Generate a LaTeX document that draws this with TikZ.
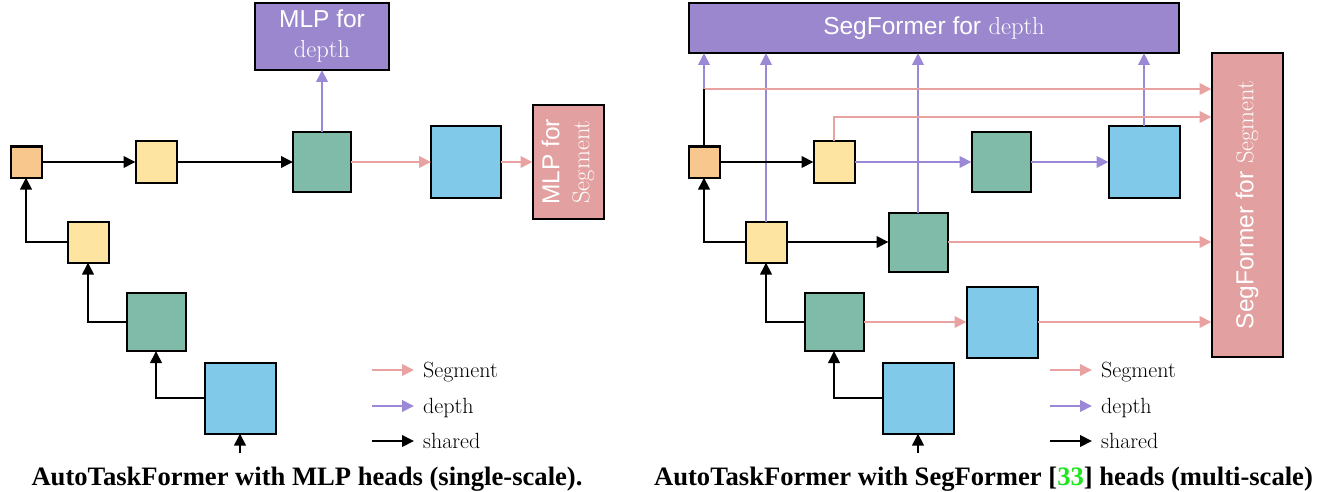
\documentclass[tikz,border=0pt]{standalone}
\usepackage{fontspec}
\newfontfamily\hv{Liberation Sans}
\newfontfamily\tms{Liberation Serif}
\usetikzlibrary{arrows.meta}
\definecolor{orangec}{RGB}{247,199,141}
\definecolor{yellowc}{RGB}{253,228,160}
\definecolor{tealc}{RGB}{127,187,168}
\definecolor{bluec}{RGB}{128,201,232}
\definecolor{purpbox}{RGB}{155,135,205}
\definecolor{pinkbox}{RGB}{226,160,160}
\definecolor{segc}{RGB}{232,162,162}
\definecolor{depc}{RGB}{155,136,214}
\definecolor{citegreen}{RGB}{30,230,30}
\tikzset{
  blk/.style={draw=black, line width=2pt, inner sep=0pt, outer sep=0pt},
  headtxt/.style={text=white, font=\fontsize{24.5}{30}\selectfont, align=center},
  tip/.style={-{Triangle[length=12pt,width=11.5pt]}},
  sh/.style={draw=black, line width=2pt, tip},
  shline/.style={draw=black, line width=2pt},
  seg/.style={draw=segc, line width=2pt, -{Triangle[length=12pt,width=11.5pt,fill=segc]}},
  dep/.style={draw=depc, line width=2pt, -{Triangle[length=12pt,width=11.5pt,fill=depc]}},
  legtxt/.style={font=\fontsize{22}{26}\selectfont, anchor=base west, inner sep=0pt},
  captxt/.style={font=\tms\bfseries\fontsize{26.6}{30}\selectfont, anchor=base, inner sep=0pt}
}
\begin{document}
\begin{tikzpicture}[x=1pt,y=-1pt]
\useasboundingbox (0,0) rectangle (1322,492);

% ---------------- Left panel ----------------
\node[blk, fill=orangec, minimum width=31pt, minimum height=31pt] (lo) at (26,162) {};
\node[blk, fill=yellowc, minimum width=41pt, minimum height=41pt] (ly1) at (156,162) {};
\node[blk, fill=tealc, minimum width=58pt, minimum height=59pt] (lt1) at (322,162) {};
\node[blk, fill=bluec, minimum width=70pt, minimum height=71pt] (lb1) at (466,162) {};
\node[blk, fill=pinkbox, minimum width=71pt, minimum height=113pt] (lseg) at (568,162) {};
\node[headtxt, rotate=90] (lsegT) at (lseg.center) {{\hv MLP for}\\Segment};
\node[blk, fill=purpbox, minimum width=134pt, minimum height=67pt] (ldep) at (322,36.5) {};
\node[headtxt] (ldepT) at (ldep.center) {{\hv MLP for}\\depth};
\node[blk, fill=yellowc, minimum width=41pt, minimum height=41pt] (ly2) at (88,242) {};
\node[blk, fill=tealc, minimum width=59pt, minimum height=58pt] (lt2) at (156,322) {};
\node[blk, fill=bluec, minimum width=71pt, minimum height=71pt] (lb2) at (240,398) {};
\coordinate (lin) at (240,453);

\draw[sh] (lo.east) -- (ly1.west);
\draw[sh] (ly1.east) -- (lt1.west);
\draw[sh] (ly2.west) -| (lo.south);
\draw[sh] (lt2.west) -| (ly2.south);
\draw[sh] (lb2.west) -| (lt2.south);
\draw[sh] (lin) -- (lb2.south);
\draw[dep] (lt1.north) -- (ldep.south);
\draw[seg] (lt1.east) -- (lb1.west);
\draw[seg] (lb1.east) -- (lseg.west);

% legend left
\coordinate (lls1) at (372,370); \coordinate (lls2) at (414,370);
\coordinate (lld1) at (372,406); \coordinate (lld2) at (414,406);
\coordinate (llh1) at (372,441); \coordinate (llh2) at (414,441);
\draw[seg] (lls1) -- (lls2);
\draw[dep] (lld1) -- (lld2);
\draw[sh] (llh1) -- (llh2);
\node[legtxt] (llsT) at (423,377) {Segment};
\node[legtxt] (lldT) at (423,413) {depth};
\node[legtxt] (llhT) at (423,448) {shared};

\node[captxt] (capL) at (307,485) {AutoTaskFormer with MLP heads (single-scale).};

% ---------------- Right panel ----------------
\node[blk, fill=purpbox, minimum width=490pt, minimum height=50pt] (rdep) at (934,28) {};
\node[headtxt] (rdepT) at (rdep.center) {{\hv SegFormer for} depth};
\node[blk, fill=pinkbox, minimum width=71pt, minimum height=304pt] (rseg) at (1247,205) {};
\node[headtxt, rotate=90] (rsegT) at (rseg.center) {{\hv SegFormer for} Segment};

\node[blk, fill=orangec, minimum width=31pt, minimum height=31pt] (ro) at (704,162) {};
\node[blk, fill=yellowc, minimum width=41pt, minimum height=41pt] (ry1) at (834,162) {};
\node[blk, fill=tealc, minimum width=59pt, minimum height=59pt] (rt1) at (1001,162) {};
\node[blk, fill=bluec, minimum width=71pt, minimum height=71pt] (rb1) at (1144,162) {};
\node[blk, fill=yellowc, minimum width=41pt, minimum height=41pt] (ry2) at (766,242) {};
\node[blk, fill=tealc, minimum width=59pt, minimum height=59pt] (rt2) at (918,242) {};
\node[blk, fill=tealc, minimum width=59pt, minimum height=58pt] (rt3) at (834,322) {};
\node[blk, fill=bluec, minimum width=71pt, minimum height=71pt] (rb2) at (1002,322) {};
\node[blk, fill=bluec, minimum width=71pt, minimum height=71pt] (rb3) at (918,398) {};
\coordinate (rin) at (918,453);
\coordinate (rsplit) at (704,89);
\coordinate (ry1up) at (834,117);

% depth (purple)
\draw[dep] (rsplit) -- (rsplit |- rdep.south);
\draw[dep] (ry2.north) -- (ry2.north |- rdep.south);
\draw[dep] (rt2.north) -- (rt2.north |- rdep.south);
\draw[dep] (rb1.north) -- (rb1.north |- rdep.south);
\draw[dep] (ry1.east) -- (rt1.west);
\draw[dep] (rt1.east) -- (rb1.west);

% segment (pink)
\draw[seg] (rsplit) -- (rsplit -| rseg.west);
\draw[seg] (ry1.north) -- (ry1up) -- (ry1up -| rseg.west);
\draw[seg] (rt2.east) -- (rt2.east -| rseg.west);
\draw[seg] (rt3.east) -- (rb2.west);
\draw[seg] (rb2.east) -- (rb2.east -| rseg.west);

% shared (black)
\draw[shline] (ro.north) -- (rsplit);
\draw[sh] (ro.east) -- (ry1.west);
\draw[sh] (ry2.west) -| (ro.south);
\draw[sh] (ry2.east) -- (rt2.west);
\draw[sh] (rt3.west) -| (ry2.south);
\draw[sh] (rb3.west) -| (rt3.south);
\draw[sh] (rin) -- (rb3.south);

% legend right
\coordinate (rls1) at (1050,370); \coordinate (rls2) at (1092,370);
\coordinate (rld1) at (1050,406); \coordinate (rld2) at (1092,406);
\coordinate (rlh1) at (1050,441); \coordinate (rlh2) at (1092,441);
\draw[seg] (rls1) -- (rls2);
\draw[dep] (rld1) -- (rld2);
\draw[sh] (rlh1) -- (rlh2);
\node[legtxt] (rlsT) at (1101,377) {Segment};
\node[legtxt] (rldT) at (1101,413) {depth};
\node[legtxt] (rlhT) at (1101,448) {shared};

\node[captxt] (capR) at (983.5,485) {AutoTaskFormer with SegFormer [\textcolor{citegreen}{33}] heads (multi-scale)};
\end{tikzpicture}
\end{document}
